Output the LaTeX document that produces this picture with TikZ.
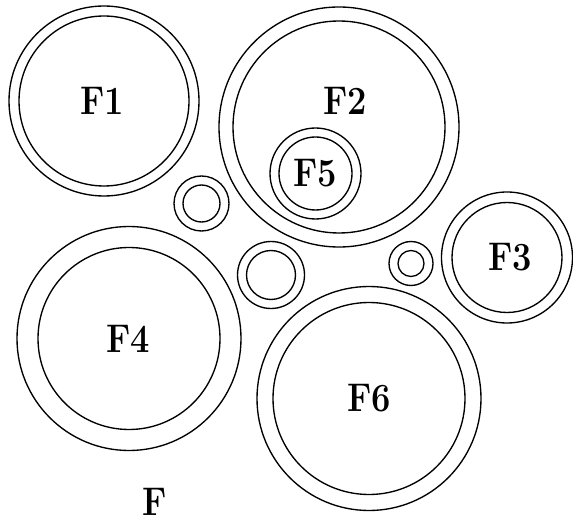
\documentclass[tikz,border=0pt]{standalone}
\begin{document}
\begin{tikzpicture}[x=1pt,y=-1pt,
  ring/.style={draw=black,line width=1.35pt},
  lbl/.style={inner sep=0pt,xscale=0.86,font=\fontsize{40}{44}\selectfont\bfseries}]
\useasboundingbox (0,0) rectangle (573,521);
% double circles: center, outer radius, inner radius
\foreach \x/\y/\ro/\ri in {104/101/95/85, 339/127/120/106, 315.5/173.5/45.5/36.5,
  201.5/203.5/27.5/18.5, 271/275/33.5/24.5, 411/263.5/22/13,
  507/257.5/65.5/55, 129/338.5/112/91, 369/398.5/112/96}{
  \draw[ring] (\x,\y) circle[radius=\ro];
  \draw[ring] (\x,\y) circle[radius=\ri];
}
\node[lbl] (f1) at (102.5,101) {F1};
\node[lbl] (f2) at (345,101) {F2};
\node[lbl] (f5) at (315,173) {F5};
\node[lbl] (f3) at (510,257.5) {F3};
\node[lbl] (f4) at (128.5,339) {F4};
\node[lbl] (f6) at (369.5,398.5) {F6};
\node[lbl] (f) at (155,502) {F};
\end{tikzpicture}
\end{document}
